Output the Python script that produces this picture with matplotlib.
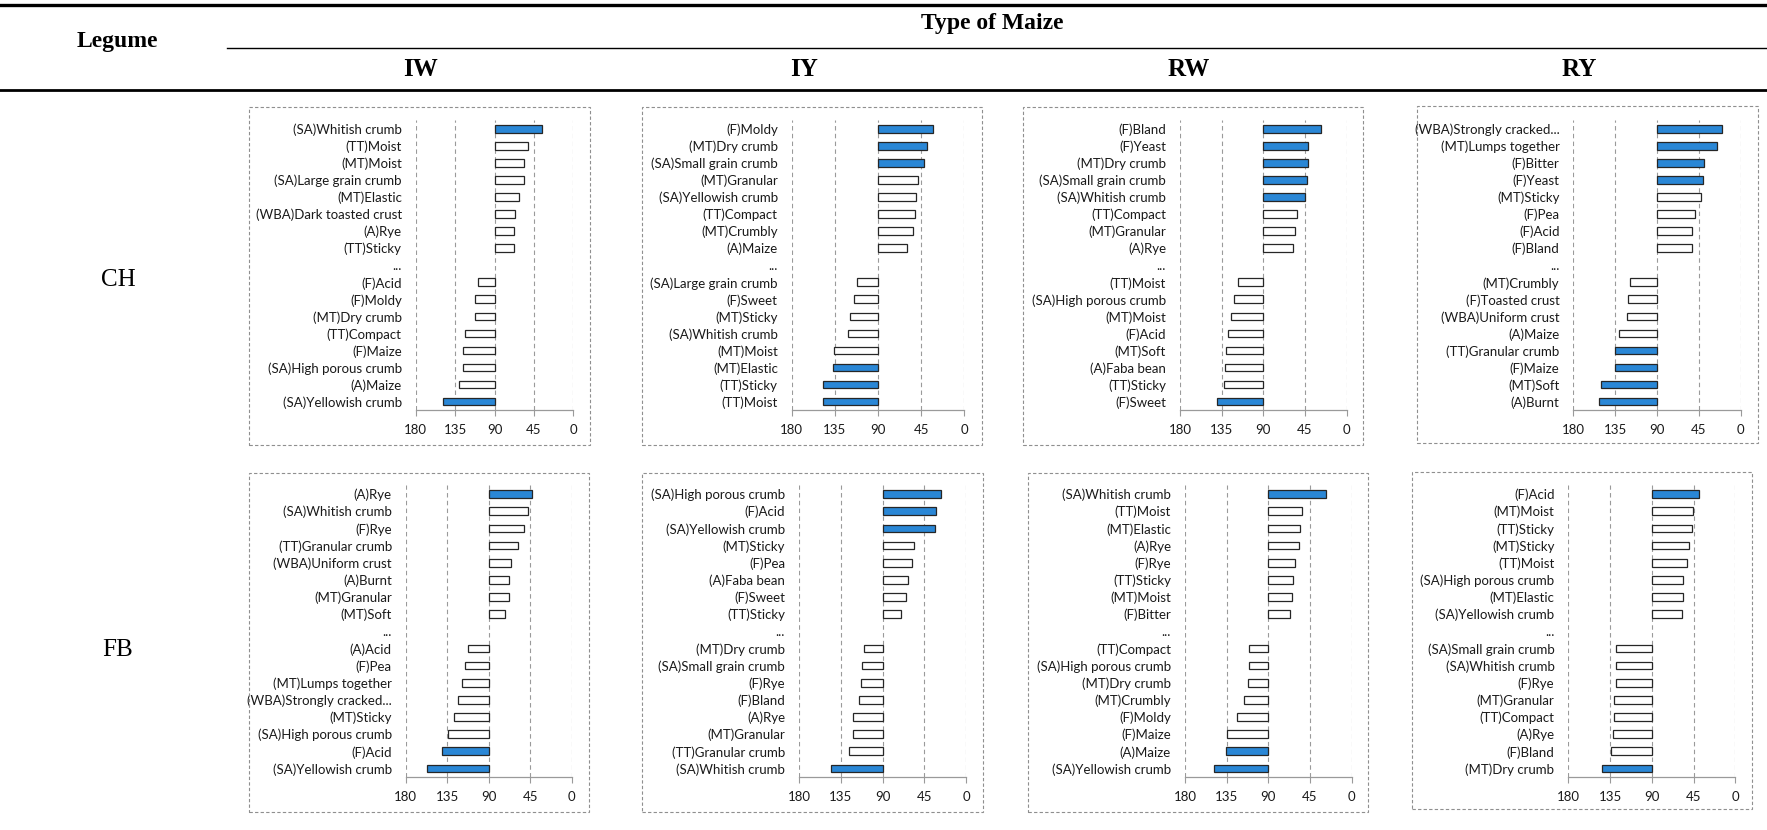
import matplotlib
matplotlib.use("Agg")
import matplotlib.pyplot as plt
from matplotlib.patches import Rectangle
from matplotlib.lines import Line2D

# ---------------------------------------------------------------- data
legumes = ["CH", "FB"]
maize_types = ["IW", "IY", "RW", "RY"]
x_ticks = [180, 135, 90, 45, 0]

ch_iw_labels = ["(SA)Whitish crumb", "(TT)Moist", "(MT)Moist", "(SA)Large grain crumb",
                "(MT)Elastic", "(WBA)Dark toasted crust", "(A)Rye", "(TT)Sticky",
                "(F)Acid", "(F)Moldy", "(MT)Dry crumb", "(TT)Compact",
                "(F)Maize", "(SA)High porous crumb", "(A)Maize", "(SA)Yellowish crumb"]
ch_iw_values = [35.4, 51.8, 56.7, 56.7, 62.0, 66.2, 68.1, 68.1,
                108.4, 111.9, 112.3, 123.3, 125.6, 126.0, 130.1, 148.8]

ch_iy_labels = ["(F)Moldy", "(MT)Dry crumb", "(SA)Small grain crumb", "(MT)Granular",
                "(SA)Yellowish crumb", "(TT)Compact", "(MT)Crumbly", "(A)Maize",
                "(SA)Large grain crumb", "(F)Sweet", "(MT)Sticky", "(SA)Whitish crumb",
                "(MT)Moist", "(MT)Elastic", "(TT)Sticky", "(TT)Moist"]
ch_iy_values = [33.0, 39.3, 42.0, 48.0, 50.4, 51.4, 53.5, 60.1,
                112.2, 114.7, 119.5, 120.9, 135.5, 136.6, 147.0, 147.7]

ch_rw_labels = ["(F)Bland", "(F)Yeast", "(MT)Dry crumb", "(SA)Small grain crumb",
                "(SA)Whitish crumb", "(TT)Compact", "(MT)Granular", "(A)Rye",
                "(TT)Moist", "(SA)High porous crumb", "(MT)Moist", "(F)Acid",
                "(MT)Soft", "(A)Faba bean", "(TT)Sticky", "(F)Sweet"]
ch_rw_values = [27.7, 41.4, 41.4, 42.8, 44.6, 53.3, 55.4, 58.0,
                117.7, 122.0, 125.3, 128.5, 130.3, 131.0, 132.5, 139.7]

ch_ry_labels = ["(WBA)Strongly cracked...", "(MT)Lumps together", "(F)Bitter", "(F)Yeast",
                "(MT)Sticky", "(F)Pea", "(F)Acid", "(F)Bland",
                "(MT)Crumbly", "(F)Toasted crust", "(WBA)Uniform crust", "(A)Maize",
                "(TT)Granular crumb", "(F)Maize", "(MT)Soft", "(A)Burnt"]
ch_ry_values = [20.1, 25.1, 39.8, 40.5, 42.7, 48.8, 52.7, 52.7,
                119.4, 120.8, 122.6, 130.9, 135.5, 135.5, 149.9, 152.0]

fb_iw_labels = ["(A)Rye", "(SA)Whitish crumb", "(F)Rye", "(TT)Granular crumb",
                "(WBA)Uniform crust", "(A)Burnt", "(MT)Granular", "(MT)Soft",
                "(A)Acid", "(F)Pea", "(MT)Lumps together", "(WBA)Strongly cracked...",
                "(MT)Sticky", "(SA)High porous crumb", "(F)Acid", "(SA)Yellowish crumb"]
fb_iw_values = [42.6, 47.0, 51.3, 58.5, 66.1, 67.6, 68.3, 72.6,
                112.0, 115.6, 118.5, 122.9, 127.2, 133.7, 141.0, 156.9]

fb_iy_labels = ["(SA)High porous crumb", "(F)Acid", "(SA)Yellowish crumb", "(MT)Sticky",
                "(F)Pea", "(A)Faba bean", "(F)Sweet", "(TT)Sticky",
                "(MT)Dry crumb", "(SA)Small grain crumb", "(F)Rye", "(F)Bland",
                "(A)Rye", "(MT)Granular", "(TT)Granular crumb", "(SA)Whitish crumb"]
fb_iy_values = [27.3, 32.3, 33.1, 55.7, 57.9, 62.9, 64.7, 69.7,
                110.3, 112.1, 112.8, 115.7, 121.5, 121.5, 126.1, 145.9]

fb_rw_labels = ["(SA)Whitish crumb", "(TT)Moist", "(MT)Elastic", "(A)Rye",
                "(F)Rye", "(TT)Sticky", "(MT)Moist", "(F)Bitter",
                "(TT)Compact", "(SA)High porous crumb", "(MT)Dry crumb", "(MT)Crumbly",
                "(F)Moldy", "(F)Maize", "(A)Maize", "(SA)Yellowish crumb"]
fb_rw_values = [27.7, 53.3, 55.4, 57.2, 61.6, 63.7, 64.1, 67.0,
                110.5, 110.5, 112.0, 116.3, 123.5, 134.3, 136.1, 148.7]

fb_ry_labels = ["(F)Acid", "(MT)Moist", "(TT)Sticky", "(MT)Sticky",
                "(TT)Moist", "(SA)High porous crumb", "(MT)Elastic", "(SA)Yellowish crumb",
                "(SA)Small grain crumb", "(SA)Whitish crumb", "(F)Rye", "(MT)Granular",
                "(TT)Compact", "(A)Rye", "(F)Bland", "(MT)Dry crumb"]
fb_ry_values = [39.2, 45.3, 46.4, 49.6, 51.7, 56.1, 56.1, 57.1,
                128.3, 128.3, 129.0, 130.4, 130.4, 132.2, 134.0, 143.7]

# number of highlighted attributes at the top / bottom of each list
ch_sig_top = [1, 3, 5, 4]
ch_sig_bottom = [1, 3, 1, 4]
fb_sig_top = [1, 3, 1, 1]
fb_sig_bottom = [2, 1, 2, 1]

# ---------------------------------------------------------------- layout
W, H = 1767, 830
fig = plt.figure(figsize=(W / 100, H / 100), dpi=100)
fig.patch.set_facecolor("white")

def fx(px):
    return px / W

def fy(py):
    return 1 - py / H

label_font = ["Lato", "DejaVu Sans"]
head_font = ["Liberation Serif", "DejaVu Serif"]
BLUE = "#2a87d6"
EDGE = "#262626"
GRID = "#9a9a9a"

# table rules
for y, lw, x0 in [(5, 2.4, 0), (48, 1.0, 227), (90, 2.0, 0)]:
    fig.add_artist(Line2D([fx(x0), 1], [fy(y), fy(y)], transform=fig.transFigure,
                          color="black", lw=lw))

fig.text(fx(117), fy(42), "Legume", ha="center", va="center", fontsize=17,
         fontweight="bold", family=head_font)
fig.text(fx(992), fy(24), "Type of Maize", ha="center", va="center", fontsize=17,
         fontweight="bold", family=head_font)
for name, xc in zip(maize_types, [420, 804, 1189, 1579]):
    fig.text(fx(xc), fy(70), name, ha="center", va="center", fontsize=18,
             fontweight="bold", family=head_font)
for name, yc in zip(legumes, [280, 650]):
    fig.text(fx(118), fy(yc), name, ha="center", va="center", fontsize=18,
             family=head_font)

# panel geometry in pixels: (axis x at 180, axis x at 0, top, bottom), box (x0, x1, y0, y1)
panels = [
    (ch_iw_labels, ch_iw_values, ch_sig_top[0], ch_sig_bottom[0], (415.7, 573.3, 120.5, 410), (249, 590, 107, 445)),
    (ch_iy_labels, ch_iy_values, ch_sig_top[1], ch_sig_bottom[1], (791.7, 964.3, 120.5, 410), (642, 982, 107, 445)),
    (ch_rw_labels, ch_rw_values, ch_sig_top[2], ch_sig_bottom[2], (1180.0, 1346.7, 120.5, 410), (1023, 1363, 107, 445)),
    (ch_ry_labels, ch_ry_values, ch_sig_top[3], ch_sig_bottom[3], (1573.3, 1740.7, 120.5, 410), (1417, 1758, 106, 443)),
    (fb_iw_labels, fb_iw_values, fb_sig_top[0], fb_sig_bottom[0], (405.7, 571.7, 485.5, 777), (249, 589, 473, 812)),
    (fb_iy_labels, fb_iy_values, fb_sig_top[1], fb_sig_bottom[1], (799.0, 966.0, 485.5, 777), (642, 983, 473, 812)),
    (fb_rw_labels, fb_rw_values, fb_sig_top[2], fb_sig_bottom[2], (1185.0, 1351.7, 485.5, 777), (1028, 1368, 473, 812)),
    (fb_ry_labels, fb_ry_values, fb_sig_top[3], fb_sig_bottom[3], (1568.3, 1735.3, 485.5, 777), (1412, 1752, 472, 809)),
]

for labels, values, n_top, n_bot, (x180, x0, ytop, ybot), (bx0, bx1, by0, by1) in panels:
    # dashed frame around each chart
    fig.add_artist(Rectangle((fx(bx0), fy(by1)), fx(bx1 - bx0), (by1 - by0) / H,
                             transform=fig.transFigure, fill=False,
                             edgecolor="#8f8f8f", lw=0.8, linestyle=(0, (3, 2))))

    ax = fig.add_axes([fx(x180), fy(ybot), fx(x0 - x180), (ybot - ytop) / H])
    ax.set_facecolor("none")

    rows = labels[:8] + ["..."] + labels[8:]
    n = len(labels)
    for i, (lab, val) in enumerate(zip(labels, values)):
        pos = i if i < 8 else i + 1
        highlighted = i < n_top or i >= n - n_bot
        ax.barh(pos, val - 90, left=90, height=0.45,
                color=BLUE if highlighted else "white",
                edgecolor=EDGE, linewidth=0.9, zorder=3)

    ax.set_xlim(180, 0)
    ax.set_ylim(len(rows) - 0.5, -0.5)
    ax.set_yticks(range(len(rows)))
    ax.set_yticklabels(rows, fontsize=9.5, family=label_font, color="#1a1a1a")
    ax.set_xticks(x_ticks)
    ax.set_xticklabels([str(t) for t in x_ticks], fontsize=9.5, family=label_font,
                       color="#1a1a1a")
    ax.tick_params(axis="y", length=0, pad=10)
    ax.tick_params(axis="x", length=4, width=0.8, color=GRID, pad=6)
    for t in x_ticks:
        ax.axvline(t, color=GRID, lw=0.8, linestyle=(0, (4, 3)), zorder=1)
    for side in ["left", "right", "top"]:
        ax.spines[side].set_visible(False)
    ax.spines["bottom"].set_color(GRID)
    ax.spines["bottom"].set_linewidth(0.9)

fig.savefig("out.png", dpi=100, facecolor="white")
